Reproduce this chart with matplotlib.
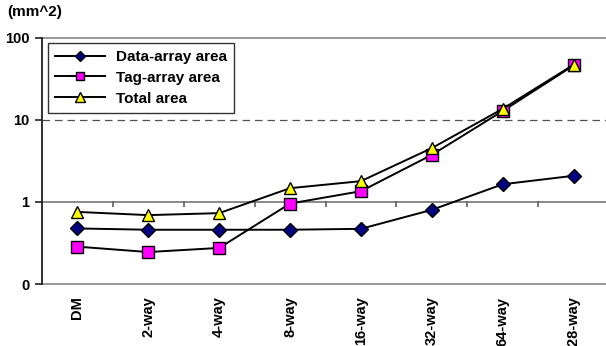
import matplotlib
matplotlib.use("Agg")
import matplotlib.pyplot as plt
import matplotlib.transforms as mtransforms
from matplotlib.ticker import FixedLocator, FixedFormatter, NullLocator

plt.rcParams['font.family'] = ['Liberation Sans', 'DejaVu Sans']
plt.rcParams['font.weight'] = 'bold'

categories = ["DM", "2-way", "4-way", "8-way", "16-way", "32-way", "64-way", "128-way"]
data_area = [0.475, 0.458, 0.458, 0.458, 0.47, 0.80, 1.64, 2.08]
tag_area = [0.285, 0.245, 0.275, 0.955, 1.35, 3.74, 12.8, 45.9]
total_area = [0.755, 0.69, 0.73, 1.47, 1.79, 4.52, 13.6, 46.8]
ytick_values = [0.1, 1, 10, 100]
ytick_labels = ["0", "1", "10", "100"]

W, H = 606, 346
fig = plt.figure(figsize=(W / 100, H / 100), dpi=100)
left, right = 42, 609
top, bottom = 37.7, 284
ax = fig.add_axes([left / W, 1 - bottom / H, (right - left) / W, (bottom - top) / H])

ax.set_yscale('log')
ax.set_ylim(0.1, 100)
ax.set_xlim(-0.5, len(categories) - 0.5)

for s in ['top', 'right', 'bottom']:
    ax.spines[s].set_visible(False)
ax.spines['left'].set_color('#202020')
ax.spines['left'].set_linewidth(1.3)

# horizontal reference lines
ax.axhline(100, color='#909090', lw=1.3, zorder=1, clip_on=False)
ax.axhline(10, color='#505050', lw=0.9, ls=(0, (6, 4)), zorder=1)
ax.axhline(1, color='#808080', lw=1.3, zorder=1)
ax.axhline(0.1, color='#909090', lw=1.3, zorder=1, clip_on=False)

# category boundary tick marks hanging below the axis line at 1
tick_trans = mtransforms.offset_copy(ax.transData, fig=fig, x=0, y=-2, units='dots')
for i in range(1, len(categories)):
    ax.plot([i - 0.5], [1], marker='|', markersize=4, color='#606060',
            markeredgewidth=1.2, transform=tick_trans, zorder=1)

x = list(range(len(categories)))
ax.plot(x, data_area, color='black', lw=1.4, marker='D', markersize=7,
        markerfacecolor='#000080', markeredgecolor='black', markeredgewidth=1.0,
        label='Data-array area', zorder=3)
ax.plot(x, tag_area, color='black', lw=1.4, marker='s', markersize=8,
        markerfacecolor='#FF00FF', markeredgecolor='black', markeredgewidth=1.0,
        label='Tag-array area', zorder=4)
ax.plot(x, total_area, color='black', lw=1.4, marker='^', markersize=9,
        markerfacecolor='#FFFF00', markeredgecolor='black', markeredgewidth=1.0,
        label='Total area', zorder=5)

ax.yaxis.set_major_locator(FixedLocator(ytick_values))
ax.yaxis.set_major_formatter(FixedFormatter(ytick_labels))
ax.yaxis.set_minor_locator(NullLocator())
ax.tick_params(axis='y', which='major', direction='out', length=5, width=1.2,
               color='#202020', pad=4, labelsize=10.5)

ax.set_xticks(x)
ax.set_xticklabels(categories, rotation=90, va='top', ha='center', fontsize=10.5)
ax.tick_params(axis='x', length=0, pad=9)

fig.text(7 / W, 1 - 12 / H, "(mm^2)", fontsize=11, fontweight='bold',
         ha='left', va='center')

leg = ax.legend(loc='upper left',
                bbox_to_anchor=((48 - left) / (right - left), 1 - (43 - top) / (bottom - top)),
                frameon=True, fancybox=False, edgecolor='black', fontsize=11,
                borderpad=0.45, labelspacing=0.45, handlelength=3.3, handletextpad=0.7,
                borderaxespad=0, markerscale=0.75)
leg.get_frame().set_linewidth(1.0)

fig.savefig("out.png", dpi=100)
